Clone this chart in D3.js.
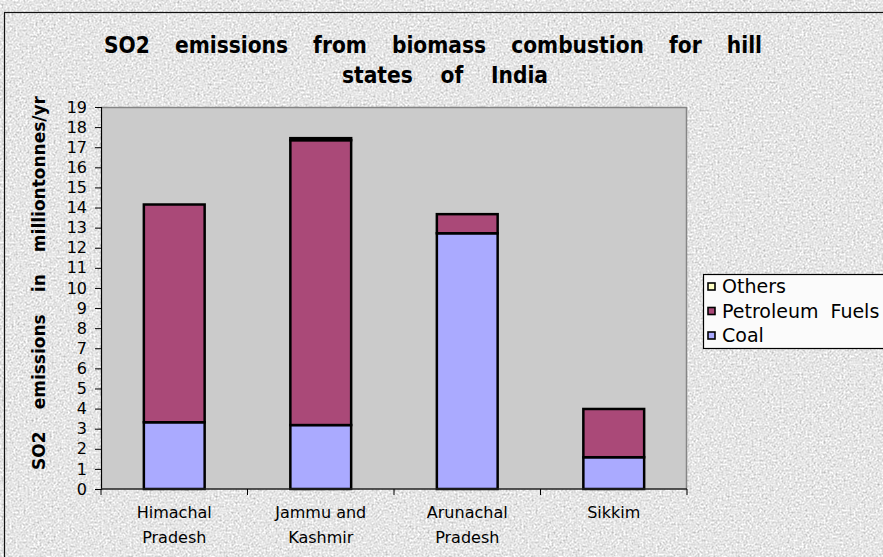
<!DOCTYPE html>
<html>
<head>
<meta charset="utf-8">
<script src="https://cdn.jsdelivr.net/npm/d3@7"></script>
<style>
  html, body { margin: 0; padding: 0; background: #ffffff; }
  svg { display: block; }
</style>
</head>
<body>
<svg id="chart" width="883" height="557"></svg>
<script>
// SO2 emissions by state, stacked by fuel source (million tonnes / yr)
const categories = [["Himachal", "Pradesh"], ["Jammu and", "Kashmir"], ["Arunachal", "Pradesh"], ["Sikkim"]];
const coal       = [3.32, 3.18, 12.72, 1.58];
const petroleum  = [10.83, 14.17, 0.95, 2.40];
const others     = [0.00, 0.10, 0.00, 0.00];
const yTicks     = d3.range(0, 20);
const seriesNames  = ["Coal", "Petroleum Fuels", "Others"];
const seriesColors = ["#aaaaff", "#aa4978", "#ffffc4"];

const svg = d3.select("#chart");

// granite paper texture for the chart area
const defs = svg.append("defs");
const f = defs.append("filter").attr("id", "paper")
  .attr("color-interpolation-filters", "sRGB")
  .attr("filterUnits", "userSpaceOnUse")
  .attr("x", 0).attr("y", 0).attr("width", 900).attr("height", 600);
f.append("feTurbulence").attr("type", "fractalNoise").attr("baseFrequency", 0.5)
  .attr("numOctaves", 3).attr("seed", 7).attr("result", "n");
f.append("feColorMatrix").attr("type", "matrix")
  .attr("values", "0.33 0.33 0.33 0 0  0.33 0.33 0.33 0 0  0.33 0.33 0.33 0 0  0 0 0 0 1");
const ct = f.append("feComponentTransfer");
["feFuncR", "feFuncG", "feFuncB"].forEach(k =>
  ct.append(k).attr("type", "linear").attr("slope", 0.75).attr("intercept", 0.53));

svg.append("rect").attr("x", 4.5).attr("y", 12.5).attr("width", 900).attr("height", 560)
  .attr("fill", "#e4e4e4").attr("filter", "url(#paper)");
svg.append("rect").attr("x", 4.5).attr("y", 12.5).attr("width", 900).attr("height", 560)
  .attr("fill", "none").attr("stroke", "#111").attr("stroke-width", 1.2);

// plot area
const plotL = 101, plotR = 687, plotT = 107, plotB = 489;
const x = d3.scaleBand().domain(d3.range(categories.length)).range([plotL, plotR]).padding(0);
const y = d3.scaleLinear().domain([0, 19]).range([plotB, plotT]);

svg.append("rect").attr("x", plotL).attr("y", plotT).attr("width", plotR - plotL).attr("height", plotB - plotT)
  .attr("fill", "#cbcbcb");
svg.append("path")
  .attr("d", `M${plotL},${plotT + 0.5}H${plotR - 0.5}V${plotB}`)
  .attr("fill", "none").attr("stroke", "#858585").attr("stroke-width", 1.5);

// stacked bars
const rows = categories.map((c, i) => ({ i, Coal: coal[i], "Petroleum Fuels": petroleum[i], Others: others[i] }));
const stacked = d3.stack().keys(seriesNames)(rows);
const barW = x.bandwidth() * 0.415;
stacked.forEach((layer, si) => {
  svg.append("g").selectAll("rect").data(layer.filter(d => d[1] - d[0] > 0)).join("rect")
    .attr("x", d => x(d.data.i) + (x.bandwidth() - barW) / 2)
    .attr("y", d => y(d[1]))
    .attr("width", barW)
    .attr("height", d => y(d[0]) - y(d[1]))
    .attr("fill", seriesColors[si])
    .attr("stroke", "#000").attr("stroke-width", 2.5);
});

const bodyFont = "DejaVu Sans, Verdana, sans-serif";

// y axis
const yAxis = d3.axisLeft(y).tickValues(yTicks).tickSize(6).tickPadding(8).tickFormat(d3.format("d"));
const gy = svg.append("g").attr("transform", `translate(${plotL},0)`).call(yAxis);
gy.select(".domain").attr("stroke", "#000").attr("stroke-width", 1.2);
gy.selectAll(".tick line").attr("stroke", "#000");
gy.selectAll("text").attr("font-family", bodyFont).attr("font-size", 16).attr("fill", "#000");

// x axis: ticks on category boundaries
svg.append("line").attr("x1", plotL).attr("x2", plotR).attr("y1", plotB).attr("y2", plotB)
  .attr("stroke", "#222").attr("stroke-width", 1.5);
const bounds = d3.range(categories.length + 1).map(i => plotL + i * x.bandwidth());
svg.append("g").selectAll("line").data(bounds).join("line")
  .attr("x1", d => d).attr("x2", d => d).attr("y1", plotB).attr("y2", plotB + 6)
  .attr("stroke", "#000").attr("stroke-width", 1);
const xl = svg.append("g").selectAll("text").data(categories).join("text")
  .attr("text-anchor", "middle")
  .attr("font-family", bodyFont).attr("font-size", 16).attr("fill", "#000");
xl.each(function (lines, i) {
  const t = d3.select(this);
  lines.forEach((ln, k) => t.append("tspan")
    .attr("x", x(i) + x.bandwidth() / 2).attr("y", 518 + k * 25).text(ln));
});

// widen word gaps until a line of text spans the given width
function spreadWords(sel, width) {
  const natural = sel.node().getComputedTextLength();
  const gaps = (sel.text().match(/ /g) || []).length;
  if (gaps) sel.attr("word-spacing", Math.max(0, (width - natural) / gaps));
  return sel;
}

// title: bold, slightly condensed horizontally
const titleFont = "DejaVu Sans, Verdana, sans-serif";
const squeeze = 0.88;
[["SO2 emissions from biomass combustion for hill", 433, 53, 658],
 ["states of India", 445, 83, 206]].forEach(([txt, cx, by, w]) => {
  const g = svg.append("g").attr("transform", `translate(${cx},${by}) scale(${squeeze},1)`);
  spreadWords(g.append("text").attr("x", 0).attr("y", 0).attr("text-anchor", "middle")
    .attr("font-family", titleFont).attr("font-weight", "bold").attr("font-size", 23)
    .text(txt), w / squeeze);
});

// y axis title
spreadWords(svg.append("text").attr("transform", "translate(45,283) rotate(-90)").attr("text-anchor", "middle")
  .attr("font-family", bodyFont).attr("font-weight", "bold").attr("font-size", 17)
  .text("SO2 emissions in milliontonnes/yr"), 374);

// legend
const lg = svg.append("g");
lg.append("rect").attr("x", 703.5).attr("y", 274.5).attr("width", 200).attr("height", 74)
  .attr("fill", "#fbfbfb").attr("stroke", "#000").attr("stroke-width", 1.2);
const legendOrder = [2, 1, 0];
legendOrder.forEach((si, k) => {
  const cy = 286 + k * 24.5;
  lg.append("rect").attr("x", 708).attr("y", cy - 3).attr("width", 7).attr("height", 7)
    .attr("fill", seriesColors[si]).attr("stroke", "#000").attr("stroke-width", 1.6);
  lg.append("text").attr("x", 722).attr("y", cy + 7)
    .attr("font-family", bodyFont).attr("font-size", 19).attr("fill", "#000")
    .attr("word-spacing", 6)
    .text(seriesNames[si]);
});
</script>
</body>
</html>
